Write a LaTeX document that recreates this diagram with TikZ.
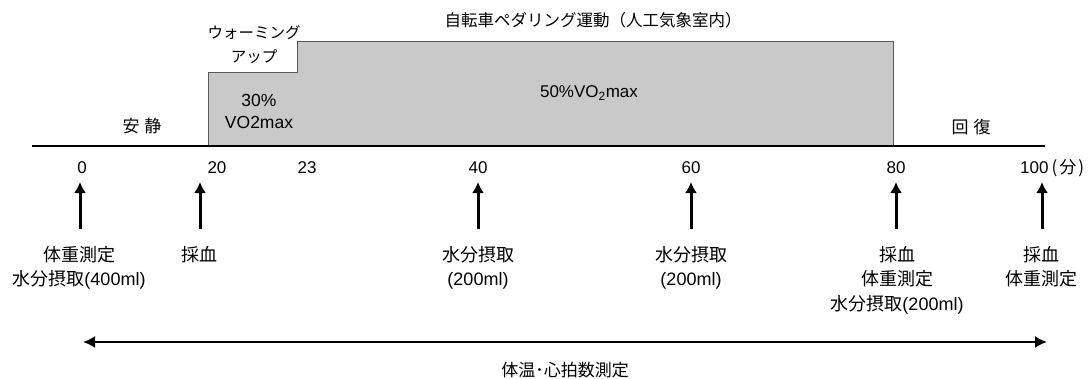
\documentclass[tikz,border=0pt]{standalone}
\usepackage{fontspec}
\setmainfont{Liberation Sans}
\newfontfamily\cjk{Noto Sans CJK JP}
\newcommand{\jpn}[1]{{\cjk #1}}
\usetikzlibrary{arrows.meta}
\begin{document}
\begin{tikzpicture}[x=1pt,y=-1pt,
  lbl/.style={inner sep=0pt, align=center, font=\fontsize{18}{24.5}\selectfont},
  tick/.style={inner sep=0pt, font=\fontsize{17}{19}\selectfont},
  phase/.style={inner sep=0pt, align=center, font=\fontsize{17}{22}\selectfont},
  evarrow/.style={line width=3pt, -{Latex[length=11pt,width=12pt]}},
  spanarrow/.style={line width=2pt, {Latex[length=12pt,width=12pt]}-{Latex[length=12pt,width=12pt]}},
  exbox/.style={fill=black!21, draw=black!65, line width=0.7pt}]
\useasboundingbox (0,0) rectangle (1088,378);
% exercise area
\draw[exbox] (208,146) -- (208,72) -- (297,72) -- (297,41) -- (893,41) -- (893,146) -- cycle;
% baseline
\coordinate (bl) at (32,146);
\coordinate (br) at (1045,146);
\draw[line width=2pt] (bl) -- (br);
% titles
\node[inner sep=0pt, font=\fontsize{16.5}{20}\selectfont] (title) at (593,20) {\jpn{自転車ペダリング運動（人工気象室内）}};
\node[inner sep=0pt, align=center, font=\fontsize{15.5}{24}\selectfont] (warm) at (254,45) {\jpn{ウォーミング}\\\jpn{アップ}};
\node[phase, font=\fontsize{17.5}{22}\selectfont] (p30) at (259,111) {30\%\\VO2max};
\node[phase] (p50) at (589,93) {50\%VO\textsubscript{2}max};
\node[phase] (rest) at (142,126) {\jpn{安}\hspace{5pt}\jpn{静}};
\node[phase] (rec) at (971,127) {\jpn{回}\hspace{5pt}\jpn{復}};
% ticks
\node[tick] (t0) at (82,168) {0};
\node[tick] (t20) at (217,168) {20};
\node[tick] (t23) at (307,168) {23};
\node[tick] (t40) at (478,168) {40};
\node[tick] (t60) at (691,168) {60};
\node[tick] (t80) at (896,168) {80};
\node[tick, anchor=west] (t100) at (1020,168) {100\hspace{3pt}\jpn{(\hspace{2pt}分\hspace{2pt})}};
% event arrows
\foreach \n/\x in {a0/80, a20/200, a40/478, a60/691, a80/896, a100/1042}{
  \coordinate (\n b) at (\x,229);
  \coordinate (\n t) at (\x,182);
  \draw[evarrow] (\n b) -- (\n t);
}
% event labels
\node[lbl, anchor=north] (l0) at (79,246) {\jpn{体重測定}\\\jpn{水分摂取}(400ml)};
\node[lbl, anchor=north] (l20) at (199,246) {\jpn{採血}};
\node[lbl, anchor=north] (l40) at (478,246) {\jpn{水分摂取}\\(200ml)};
\node[lbl, anchor=north] (l60) at (691,246) {\jpn{水分摂取}\\(200ml)};
\node[lbl, anchor=north] (l80) at (897,246) {\jpn{採血}\\\jpn{体重測定}\\\jpn{水分摂取}(200ml)};
\node[lbl, anchor=north] (l100) at (1041,246) {\jpn{採血}\\\jpn{体重測定}};
% measurement span
\coordinate (sl) at (83,342);
\coordinate (sr) at (1047,342);
\draw[spanarrow] (sl) -- (sr);
\node[inner sep=0pt, font=\fontsize{17}{20}\selectfont] (meas) at (565,370) {\jpn{体温･心拍数測定}};
\end{tikzpicture}
\end{document}
